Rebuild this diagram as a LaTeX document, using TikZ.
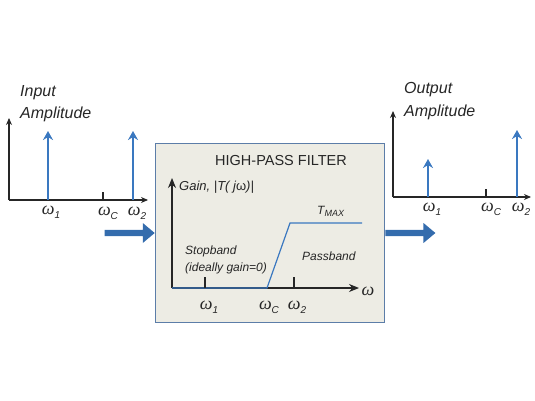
\documentclass[tikz,border=0pt]{standalone}
\usepackage{fontspec}
\setmainfont{Liberation Sans}
\newfontfamily\grk{Liberation Serif}
\usetikzlibrary{shapes.arrows,arrows.meta}
\definecolor{spike}{RGB}{58,120,192}
\definecolor{boxfill}{RGB}{237,236,228}
\definecolor{boxline}{RGB}{92,125,168}
\newcommand{\wsym}{{\grk\itshape ω}}
\newcommand{\wsub}[1]{\wsym\raisebox{-0.4ex}{\fontsize{10}{10}\selectfont\itshape #1}}
\begin{document}
\begin{tikzpicture}[x=1pt,y=-1pt,
  axis/.style={draw=black!85,line width=1.1pt,-{Stealth[length=7pt,width=6pt]}},
  bigaxis/.style={axis,-{Stealth[length=10pt,width=8pt]}},
  spk/.style={draw=spike,line width=1.8pt,-{Stealth[length=9pt,width=10pt]}},
  tick/.style={draw=black!85,line width=1.1pt},
  lbl/.style={font=\itshape\fontsize{16}{18}\selectfont,inner sep=0pt,text=black!85},
  small/.style={font=\itshape\fontsize{12}{14}\selectfont,inner sep=0pt,text=black!85},
  om/.style={inner sep=0pt,font=\fontsize{18}{18}\selectfont,text=black!85},
  flow/.style={single arrow,fill=spike!90!black,draw=none,minimum height=50pt,
    minimum width=20pt,single arrow head extend=5pt,single arrow tip angle=80,inner sep=2pt}]
\useasboundingbox (0,0) rectangle (535,401);
% input spectrum
\coordinate (io) at (9,200);
\coordinate (iy) at (9,118);
\coordinate (ix) at (148,200);
\draw[axis] (io) -- (iy);
\draw[axis] (io) -- (ix);
\coordinate (i1) at (48,200);
\coordinate (i1t) at (48,131);
\coordinate (i2) at (133,200);
\coordinate (i2t) at (133,131);
\draw[spk] (i1) -- (i1t);
\draw[spk] (i2) -- (i2t);
\coordinate (ic) at (103,200);
\coordinate (ict) at (103,192);
\draw[tick] (ic) -- (ict);
\node[om] (iw1) at (51,212) {\wsub{1}};
\node[om] (iwc) at (108,213) {\wsub{C}};
\node[om] (iw2) at (137,213) {\wsub{2}};
\node[lbl,anchor=west] (intxt) at (20,93) {Input};
\node[lbl,anchor=west] (inamp) at (20,114) {Amplitude};
% filter block
\node[draw=boxline,fill=boxfill,line width=1.2pt,minimum width=229pt,minimum height=179pt,
  anchor=north west,inner sep=0pt] (hpf) at (155,143) {};
\node[font=\fontsize{14.5}{16}\selectfont,text=black!85] (title) at (281,161) {HIGH-PASS FILTER};
\coordinate (fo) at (172,288);
\coordinate (fy) at (172,178);
\coordinate (fx) at (359,288);
\draw[bigaxis] (fo) -- (fy);
\draw[bigaxis] (fo) -- (fx);
\node[small,anchor=west,font=\itshape\fontsize{13}{14}\selectfont] (gain) at (179,187) {Gain, |T( j{\upshape ω})|};
\coordinate (c1) at (267,288);
\coordinate (c2) at (290,223);
\coordinate (c3) at (362,223);
\draw[spike,line width=1.2pt] (fo) -- (c1) -- (c2) -- (c3);
\node[small,anchor=south west] (tmax) at (317,217) {T\raisebox{-0.4ex}{\fontsize{9}{9}\selectfont MAX}};
\coordinate (f1) at (205,288);
\coordinate (f1t) at (205,277);
\coordinate (f2) at (294,288);
\coordinate (f2t) at (294,277);
\draw[tick] (f1) -- (f1t);
\draw[tick] (f2) -- (f2t);
\node[om] (fw) at (368,291) {\wsym};
\node[om] (fw1) at (209,307) {\wsub{1}};
\node[om] (fwc) at (269,307) {\wsub{C}};
\node[om] (fw2) at (297,307) {\wsub{2}};
\node[small,anchor=west] (stop) at (185,251) {Stopband};
\node[small,anchor=west] (ideal) at (185,268) {(ideally gain=0)};
\node[small,anchor=west] (pass) at (302,256) {Passband};
% output spectrum
\coordinate (oo) at (393,197);
\coordinate (oy) at (393,111);
\coordinate (ox) at (531,197);
\draw[axis] (oo) -- (oy);
\draw[axis] (oo) -- (ox);
\coordinate (o1) at (428,197);
\coordinate (o1t) at (428,159);
\coordinate (o2) at (517,197);
\coordinate (o2t) at (517,130);
\draw[spk] (o1) -- (o1t);
\draw[spk] (o2) -- (o2t);
\coordinate (oc) at (486,197);
\coordinate (oct) at (486,189);
\draw[tick] (oc) -- (oct);
\node[om] (ow1) at (432,209) {\wsub{1}};
\node[om] (owc) at (491,209) {\wsub{C}};
\node[om] (ow2) at (521,209) {\wsub{2}};
\node[lbl,anchor=west] (outtxt) at (404,90) {Output};
\node[lbl,anchor=west] (outamp) at (404,112) {Amplitude};
% flow arrows
\node[flow,anchor=east] (inflow) at (hpf.west |- 0,233) {};
\node[flow,anchor=west] (outflow) at (hpf.east |- 0,233) {};
\end{tikzpicture}
\end{document}
